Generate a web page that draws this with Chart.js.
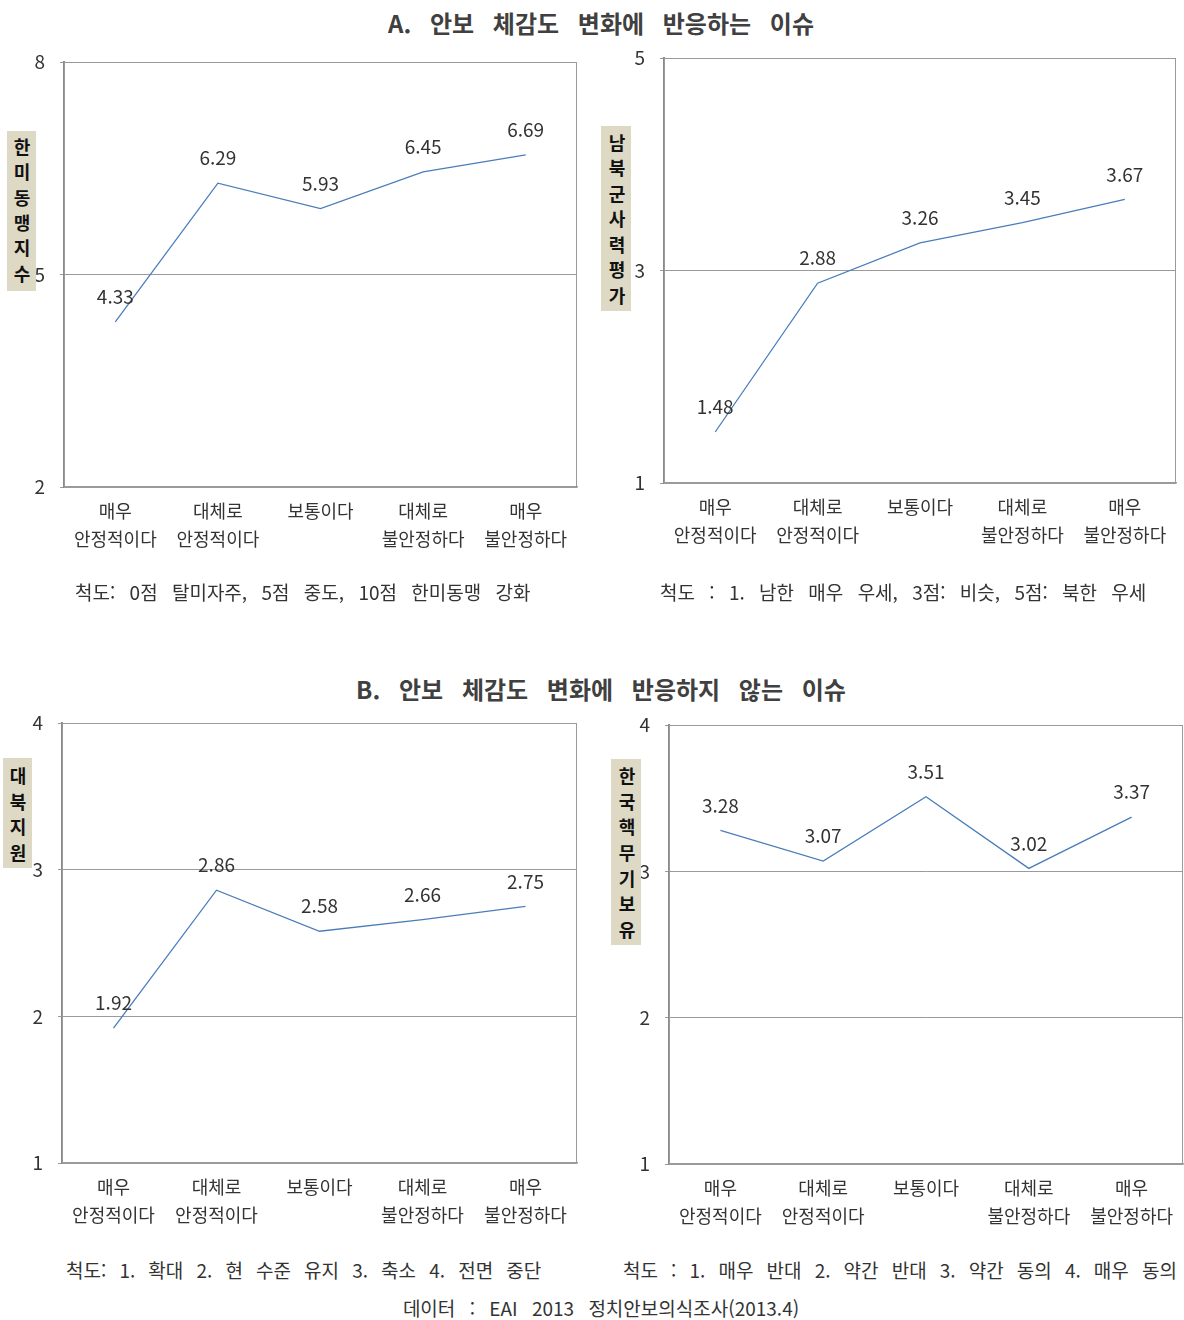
<!DOCTYPE html>
<html lang="ko">
<head>
<meta charset="utf-8">
<title>안보 체감도 변화와 이슈별 태도</title>
<script src="https://cdn.jsdelivr.net/npm/chart.js@4.4.1/dist/chart.umd.min.js"></script>
<style>
    html, body { margin: 0; padding: 0; background: #fff; }
    body { position: relative; width: 1184px; height: 1320px; overflow: hidden;
           font-family: 'Liberation Sans Narrow', 'Noto Sans CJK KR', sans-serif; color: #333; }
    canvas { position: absolute; }
    .heading { position: absolute; left: 0; width: 1202px; text-align: center;
               font-family: 'Noto Sans CJK KR', sans-serif; font-size: 24px; font-weight: 700;
               color: #404040; word-spacing: 12px; line-height: 30px; }
    .note { position: absolute; font-size: 19px; line-height: 24px; white-space: nowrap;
            word-spacing: 9px; color: #333; }
    .axis-tag { position: absolute; box-sizing: border-box; background: #ddd9c4; color: #111;
                font-family: 'Noto Sans CJK KR', sans-serif; font-weight: 700; font-size: 18px;
                writing-mode: vertical-rl; text-orientation: upright; text-align: start;
                white-space: nowrap; overflow: hidden; line-height: 29px; }
</style>
</head>
<body>

<div class="heading" style="top:8px;">A. 안보 체감도 변화에 반응하는 이슈</div>
<div class="heading" style="top:674px;">B. 안보 체감도 변화에 반응하지 않는 이슈</div>

<canvas id="chartAlliance" width="600" height="540" style="left:0;top:40px;"></canvas>
<canvas id="chartMilitary" width="584" height="540" style="left:600px;top:40px;"></canvas>
<canvas id="chartAid" width="600" height="550" style="left:0;top:705px;"></canvas>
<canvas id="chartNuclear" width="584" height="550" style="left:600px;top:705px;"></canvas>

<div class="axis-tag" style="left:7px;top:131px;width:29px;height:160px;padding-top:7px;letter-spacing:7.4px;">한미동맹지수</div>
<div class="axis-tag" style="left:601px;top:126px;width:30px;height:185px;padding-top:8px;letter-spacing:7.5px;">남북군사력평가</div>
<div class="axis-tag" style="left:3px;top:758px;width:29px;height:110px;padding-top:9px;letter-spacing:7.7px;">대북지원</div>
<div class="axis-tag" style="left:611px;top:759px;width:30px;height:186px;padding-top:8px;letter-spacing:7.7px;">한국핵무기보유</div>

<div class="note" style="left:75px;top:580px;">척도: 0점 탈미자주, 5점 중도, 10점 한미동맹 강화</div>
<div class="note" style="left:660px;top:580px;">척도 : 1. 남한 매우 우세, 3점: 비슷, 5점: 북한 우세</div>
<div class="note" style="left:66px;top:1258px;word-spacing:7.8px;">척도: 1. 확대 2. 현 수준 유지 3. 축소 4. 전면 중단</div>
<div class="note" style="left:623px;top:1258px;word-spacing:7.8px;">척도 : 1. 매우 반대 2. 약간 반대 3. 약간 동의 4. 매우 동의</div>
<div class="note" style="left:0;width:1202px;text-align:center;top:1296px;">데이터 : EAI 2013 정치안보의식조사(2013.4)</div>

<script>
// response categories (perceived security situation)
const categories = [
    ['매우', '안정적이다'],
    ['대체로', '안정적이다'],
    ['보통이다'],
    ['대체로', '불안정하다'],
    ['매우', '불안정하다']
];

// mean scores per category
const allianceIndex   = [4.33, 6.29, 5.93, 6.45, 6.69];
const militaryBalance = [1.48, 2.88, 3.26, 3.45, 3.67];
const aidToNorth      = [1.92, 2.86, 2.58, 2.66, 2.75];
const nuclearArmament = [3.28, 3.07, 3.51, 3.02, 3.37];

// y-axis tick values
const allianceTicks = [2, 5, 8];
const militaryTicks = [1, 3, 5];
const aidTicks      = [1, 2, 3, 4];
const nuclearTicks  = [1, 2, 3, 4];

const FONT_FAMILY = "'Liberation Sans Narrow', 'Noto Sans CJK KR', sans-serif";
const LINE_COLOR = '#4a7ebb';
const GRID_COLOR = '#9a9a9a';

// value labels above each point
const valueLabels = {
    id: 'valueLabels',
    afterDatasetsDraw(chart) {
        const ctx = chart.ctx;
        chart.data.datasets.forEach((dataset, i) => {
            const meta = chart.getDatasetMeta(i);
            meta.data.forEach((pt, index) => {
                ctx.save();
                ctx.fillStyle = '#333';
                ctx.font = '19px ' + FONT_FAMILY;
                ctx.textAlign = 'center';
                ctx.textBaseline = 'middle';
                ctx.fillText(dataset.data[index].toFixed(2), pt.x, pt.y - 25);
                ctx.restore();
            });
        });
    }
};

// thin frame round the plot area
const plotFrame = {
    id: 'plotFrame',
    beforeDatasetsDraw(chart) {
        const a = chart.chartArea;
        const ctx = chart.ctx;
        ctx.save();
        ctx.strokeStyle = GRID_COLOR;
        ctx.lineWidth = 1;
        ctx.strokeRect(a.left + 0.5, a.top + 0.5, a.right - a.left - 1, a.bottom - a.top);
        ctx.restore();
    }
};

function makeChart(canvasId, values, ticks, box) {
    const minV = ticks[0];
    const maxV = ticks[ticks.length - 1];
    return new Chart(document.getElementById(canvasId), {
        type: 'line',
        data: {
            labels: categories,
            datasets: [{
                data: values,
                borderColor: LINE_COLOR,
                borderWidth: 1.3,
                pointRadius: 0,
                tension: 0,
                fill: false
            }]
        },
        options: {
            responsive: false,
            animation: false,
            layout: {
                padding: { top: box.top, right: box.right, left: 0, bottom: 0 }
            },
            scales: {
                x: {
                    offset: true,
                    grid: { display: false, drawTicks: false, tickLength: 0 },
                    border: { display: true, color: GRID_COLOR, width: 1.5 },
                    ticks: {
                        color: '#333',
                        padding: 10,
                        maxRotation: 0,
                        autoSkip: false,
                        font: { family: FONT_FAMILY, size: 18, lineHeight: 28 / 18 }
                    },
                    afterFit(axis) {
                        axis.height = box.xHeight;
                        axis.paddingLeft = 0;
                        axis.paddingRight = 0;
                    }
                },
                y: {
                    min: minV,
                    max: maxV,
                    afterBuildTicks(axis) { axis.ticks = ticks.map(v => ({ value: v })); },
                    grid: {
                        color: GRID_COLOR,
                        lineWidth: 1,
                        tickLength: 4,
                        drawTicks: true
                    },
                    border: { display: true, color: '#8a8a8a', width: 2 },
                    ticks: {
                        color: '#333',
                        padding: 15,
                        font: { family: FONT_FAMILY, size: 19 }
                    },
                    afterFit(axis) {
                        // the plot box is placed by layout padding only
                        axis.width = box.left;
                        axis.paddingTop = 0;
                        axis.paddingBottom = 0;
                    }
                }
            },
            plugins: {
                legend: { display: false },
                tooltip: { enabled: false }
            }
        },
        plugins: [plotFrame, valueLabels]
    });
}

makeChart('chartAlliance', allianceIndex, allianceTicks, { top: 22, right: 23, left: 64, xHeight: 93 });
makeChart('chartMilitary', militaryBalance, militaryTicks, { top: 18, right: 8, left: 64, xHeight: 97 });
makeChart('chartAid', aidToNorth, aidTicks, { top: 18, right: 23, left: 62, xHeight: 92 });
makeChart('chartNuclear', nuclearArmament, nuclearTicks, { top: 20, right: 1, left: 69, xHeight: 91 });
</script>
</body>
</html>
